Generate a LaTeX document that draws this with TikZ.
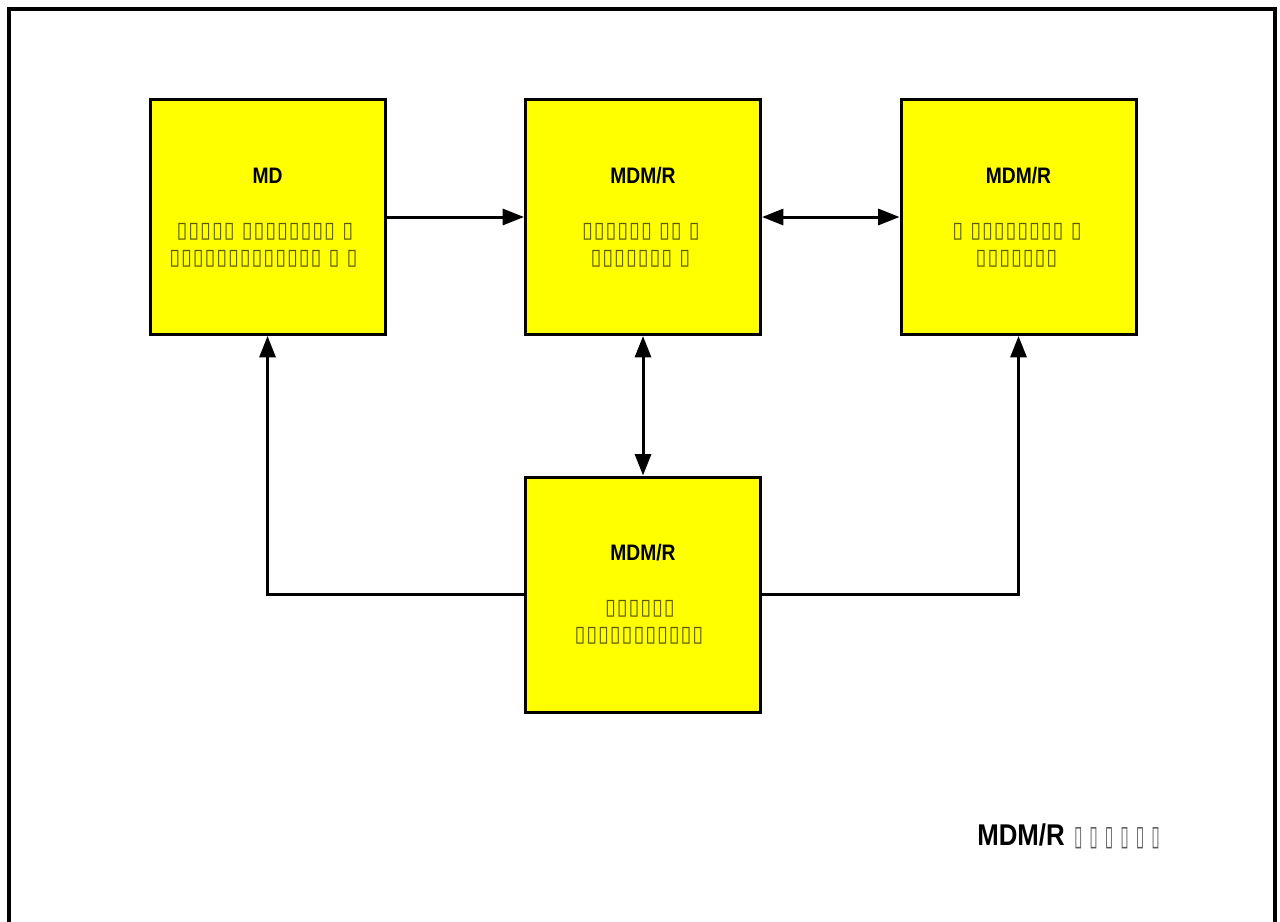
\documentclass[tikz,border=0pt]{standalone}
\usepackage{fontspec}
\usetikzlibrary{arrows.meta}
\newfontfamily\headfont{Liberation Sans}[FakeStretch=0.86]
\newfontfamily\glyphfont{DejaVu Sans}[FakeStretch=0.9,LetterSpace=4]
\newfontfamily\capglyphfont{DejaVu Sans}[FakeStretch=0.55,LetterSpace=25]
\definecolor{boxyellow}{RGB}{255,255,0}
\definecolor{olivetext}{RGB}{90,90,0}
\definecolor{greytext}{RGB}{90,90,90}
\tikzset{
  unitbox/.style={draw=black, line width=2.25pt, fill=boxyellow,
    minimum width=176.25pt, minimum height=176.25pt, inner sep=0pt},
  boxtitle/.style={font=\headfont\bfseries\fontsize{16.8pt}{18pt}\selectfont, inner sep=0pt},
  boxline/.style={font=\glyphfont\fontsize{16.5pt}{18pt}\selectfont, text=olivetext, inner sep=0pt},
  link/.style={line width=2.25pt, draw=black},
  tip/.style={-{Triangle[length=16pt,width=12pt]}},
  twotip/.style={{Triangle[length=16pt,width=12pt]}-{Triangle[length=16pt,width=12pt]}},
}
\begin{document}
\begin{tikzpicture}[x=0.75pt,y=-0.75pt]
  \useasboundingbox (0,0) rectangle (1280,921);
  % outer frame, open at the bottom
  \draw[line width=3pt] (9,930) -- (9,9) -- (1275,9) -- (1275,930);

  % the four blocks
  \node[unitbox] (b1) at (267.5,217) {};
  \node[unitbox] (b2) at (643,217) {};
  \node[unitbox] (b3) at (1018.5,217) {};
  \node[unitbox] (b4) at (643,594.5) {};

  % block texts
  \node[boxtitle] (t1) at (267.5,176) {MD};
  \node[boxline] (l1a) at (265,232) {▯▯▯▯▯ ▯▯▯▯▯▯▯▯ ▯};
  \node[boxline] (l1b) at (263.5,259) {▯▯▯▯▯▯▯▯▯▯▯▯▯ ▯ ▯};

  \node[boxtitle] (t2) at (643,176) {MDM/R};
  \node[boxline] (l2a) at (641,232) {▯▯▯▯▯▯ ▯▯ ▯};
  \node[boxline] (l2b) at (640.5,259) {▯▯▯▯▯▯▯ ▯};

  \node[boxtitle] (t3) at (1018.5,176) {MDM/R};
  \node[boxline] (l3a) at (1017,232) {▯ ▯▯▯▯▯▯▯▯ ▯};
  \node[boxline] (l3b) at (1016.5,259) {▯▯▯▯▯▯▯};

  \node[boxtitle] (t4) at (643,553) {MDM/R};
  \node[boxline] (l4a) at (640,609) {▯▯▯▯▯▯};
  \node[boxline] (l4b) at (639,636) {▯▯▯▯▯▯▯▯▯▯▯};

  % connectors
  \draw[link,tip] (b1.east) -- (b2.west);
  \draw[link,twotip] (b2.east) -- (b3.west);
  \draw[link,twotip] (b2.south) -- (b4.north);
  \draw[link,tip] (b4.west) -| (b1.south);
  \draw[link,tip] (b4.east) -| (b3.south);

  % caption
  \node[inner sep=0pt, anchor=base west] (cap) at (977,845)
    {\headfont\bfseries\fontsize{22.5pt}{24pt}\selectfont MDM/R\hspace{7pt}%
     {\capglyphfont\fontsize{21pt}{24pt}\selectfont\color{greytext}▯▯▯▯▯▯}};
\end{tikzpicture}
\end{document}
